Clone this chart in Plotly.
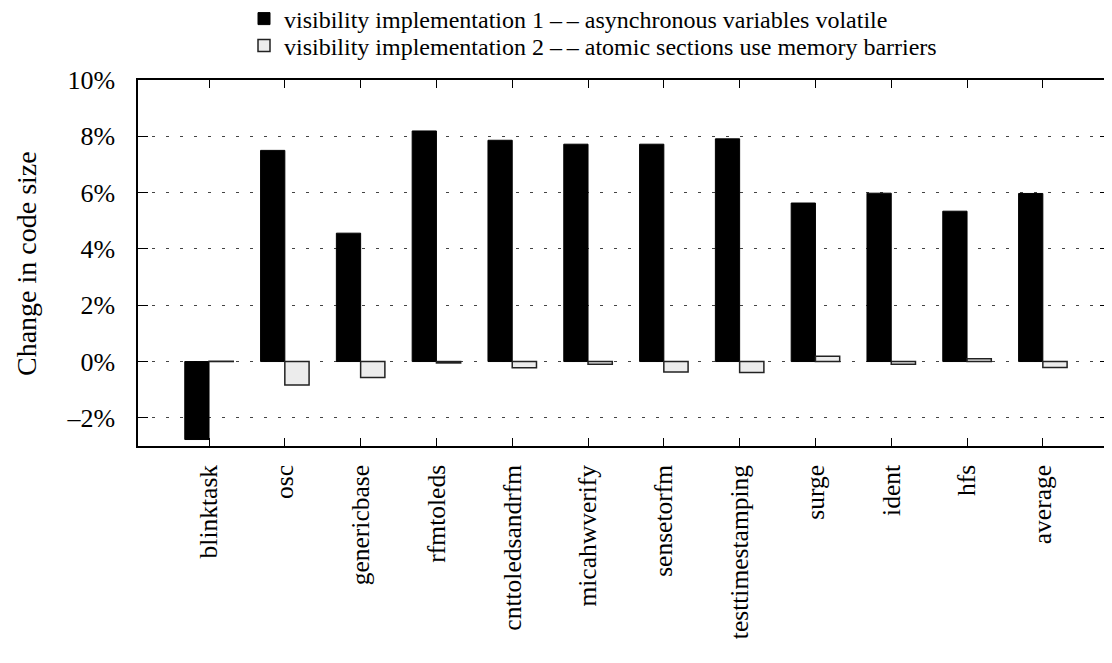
import plotly.graph_objects as go

categories = ["blinktask", "osc", "genericbase", "rfmtoleds", "cnttoledsandrfm",
              "micahwverify", "sensetorfm", "testtimestamping", "surge", "ident",
              "hfs", "average"]
impl1 = [-2.77, 7.50, 4.56, 8.19, 7.86, 7.72, 7.72, 7.91, 5.63, 5.98, 5.34, 5.97]
impl2 = [0.01, -0.83, -0.57, -0.05, -0.22, -0.10, -0.37, -0.39, 0.19, -0.10, 0.10, -0.21]
name1 = "visibility implementation 1 –\u2009– asynchronous variables volatile"
name2 = "visibility implementation 2 –\u2009– atomic sections use memory barriers"
yticks = [-2, 0, 2, 4, 6, 8, 10]
yticktext = ["–2%", "0%", "2%", "4%", "6%", "8%", "10%"]
ytitle = "Change in code size"

FONT = "Liberation Serif"
idx = list(range(len(categories)))
W, H = 1112, 663
L, R, T, B = 130, 10, 72, 225
PW, PH = W - L - R, H - T - B

fig = go.Figure()
fig.add_trace(go.Bar(x=idx, y=impl1, name=name1, width=0.32, offset=-0.32,
                     legend="legend",
                     marker=dict(color="black", line=dict(color="black", width=1))))
fig.add_trace(go.Bar(x=idx, y=impl2, name=name2, width=0.32, offset=0.0,
                     legend="legend2",
                     marker=dict(color="#ececec", line=dict(color="#222222", width=1.5))))

leg_common = dict(xref="container", yref="container", x=236 / W,
                  xanchor="left", yanchor="middle",
                  font=dict(family=FONT, size=24), bgcolor="rgba(0,0,0,0)",
                  itemwidth=30)

xr = [-0.937, 11.886]
fig.update_layout(
    template="none",
    width=W, height=H,
    margin=dict(l=L, r=R, t=T, b=B, autoexpand=False),
    paper_bgcolor="white", plot_bgcolor="white",
    font=dict(family=FONT, size=26, color="black"),
    barmode="overlay",
    showlegend=True,
    legend=dict(y=1 - 11 / H, **leg_common),
    legend2=dict(y=1 - 38 / H, **leg_common),
    xaxis=dict(range=xr, tickvals=idx, ticktext=categories, tickangle=-90,
               ticks="inside", ticklen=8, tickcolor="black", tickwidth=1,
               showgrid=False, zeroline=False, automargin=False,
               showline=True, linecolor="black", linewidth=1.5, mirror="ticks",
               ticklabelstandoff=7,
               tickfont=dict(family=FONT, size=25.5)),
    yaxis=dict(range=[-3, 10], tickvals=yticks, ticktext=yticktext, ticks="inside",
               ticklen=10, tickcolor="black", tickwidth=1, showline=True,
               linecolor="black", automargin=False,
               linewidth=1.5, mirror="ticks", showgrid=True, gridcolor="#444444",
               griddash="3px,11px", gridwidth=1, zeroline=False,
               ticklabelstandoff=16,
               tickfont=dict(family=FONT, size=26)),
    annotations=[dict(text=ytitle, xref="paper", yref="paper",
                      x=(18 - L) / PW, y=(H - B - 256) / PH,
                      xanchor="center", yanchor="middle", textangle=-90,
                      showarrow=False, font=dict(family=FONT, size=28))],
)
fig.write_html("out.html")
